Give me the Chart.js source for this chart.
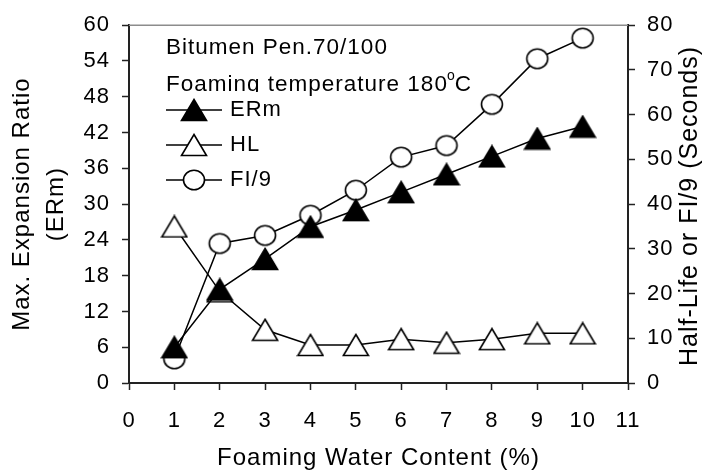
<!DOCTYPE html>
<html>
<head>
<meta charset="utf-8">
<script src="https://cdn.jsdelivr.net/npm/chart.js@4.4.0/dist/chart.umd.min.js"></script>
<style>
  html, body { margin: 0; padding: 0; background: #fff; }
  #wrap { width: 711px; height: 475px; position: relative; }
</style>
</head>
<body>
<div id="wrap"><canvas id="myChart"></canvas></div>
<script>
// water content (%)
const waterContent = [1, 2, 3, 4, 5, 6, 7, 8, 9, 10];
// max expansion ratio, left axis
const ermValues = [6, 15.7, 20.8, 26.2, 29, 32, 35, 38, 41, 43];
// half-life (s), right axis
const hlValues = [35, 20.5, 11.9, 8.5, 8.5, 9.8, 9, 9.8, 11.1, 11.1];
// foam index / 9 (s), right axis
const fiValues = [5.4, 31.2, 33, 37.5, 43.1, 50.5, 53.1, 62.3, 72.5, 77.1];

const legendLabels = ["ERm", "HL", "FI/9"];
const noteLines = ["Bitumen Pen.70/100", "Foaming temperature 180", "C"];

const FONT = '"Liberation Sans", Arial, sans-serif';

// marker images
function triangleMarker(fill) {
  const c = document.createElement('canvas');
  c.width = 28; c.height = 24;
  const g = c.getContext('2d');
  g.beginPath();
  g.moveTo(14, 1.5);
  g.lineTo(26.5, 22.5);
  g.lineTo(1.5, 22.5);
  g.closePath();
  g.fillStyle = fill;
  g.fill();
  g.lineWidth = 1.6;
  g.strokeStyle = '#000';
  g.stroke();
  return c;
}

function circleMarker() {
  const c = document.createElement('canvas');
  c.width = 26; c.height = 24;
  const g = c.getContext('2d');
  g.beginPath();
  g.ellipse(13, 12, 10.5, 9.8, 0, 0, Math.PI * 2);
  g.fillStyle = '#fff';
  g.fill();
  g.lineWidth = 1.6;
  g.strokeStyle = '#000';
  g.stroke();
  return c;
}

const ermMark = triangleMarker('#000');
const hlMark = triangleMarker('#fff');
const fiMark = circleMarker();

const toPoints = (vals) => waterContent.map((x, i) => ({ x: x, y: vals[i] }));

const extras = {
  id: 'extras',
  beforeDraw(chart) {
    chart.ctx.letterSpacing = '1px';
  },
  afterDraw(chart) {
    const ctx = chart.ctx;
    const area = chart.chartArea;
    ctx.save();
    ctx.letterSpacing = '1px';

    // top frame line
    ctx.strokeStyle = '#8c8c8c';
    ctx.lineWidth = 1.5;
    ctx.beginPath();
    ctx.moveTo(area.left, area.top);
    ctx.lineTo(area.right, area.top);
    ctx.stroke();

    // notes
    ctx.fillStyle = '#000';
    ctx.textBaseline = 'alphabetic';
    ctx.textAlign = 'left';
    ctx.font = '22.5px ' + FONT;
    ctx.fillText(noteLines[0], 166, 54);
    ctx.fillText(noteLines[1], 166, 91);
    let w = ctx.measureText(noteLines[1]).width;
    ctx.font = '14px ' + FONT;
    ctx.fillText('o', 166 + w - 1, 80);
    let w2 = ctx.measureText('o').width;
    ctx.font = '22.5px ' + FONT;
    ctx.fillText(noteLines[2], 166 + w + w2 - 2, 91);

    // legend box
    ctx.fillStyle = '#fff';
    ctx.fillRect(160, 92, 130, 104);
    const marks = [ermMark, hlMark, fiMark];
    const rows = [110, 145, 180];
    ctx.strokeStyle = '#000';
    ctx.lineWidth = 1.5;
    rows.forEach((yy, i) => {
      ctx.beginPath();
      ctx.moveTo(166, yy);
      ctx.lineTo(222, yy);
      ctx.stroke();
      ctx.drawImage(marks[i], 194 - marks[i].width / 2, yy - marks[i].height / 2);
      ctx.fillStyle = '#000';
      ctx.textBaseline = 'middle';
      ctx.font = '22px ' + FONT;
      ctx.fillText(legendLabels[i], 230, yy);
    });

    // right axis title, reading bottom to top
    ctx.translate(690, 206);
    ctx.rotate(-Math.PI / 2);
    ctx.textAlign = 'center';
    ctx.textBaseline = 'middle';
    ctx.font = '25px ' + FONT;
    ctx.fillText('Half-Life or FI/9 (Seconds)', 0, 0);
    ctx.restore();
  }
};

const axisGrid = {
  drawOnChartArea: false,
  drawTicks: true,
  tickLength: 7,
  tickColor: '#222',
  tickWidth: 1.5
};
const axisBorder = { display: true, color: '#222', width: 2 };
const tickFont = { family: FONT, size: 22 };

const config = {
  type: 'line',
  data: {
    datasets: [
      {
        label: legendLabels[0],
        data: toPoints(ermValues),
        yAxisID: 'y',
        borderColor: '#000',
        borderWidth: 1.5,
        pointStyle: ermMark,
        pointRadius: 12,
        tension: 0
      },
      {
        label: legendLabels[1],
        data: toPoints(hlValues),
        yAxisID: 'y1',
        borderColor: '#000',
        borderWidth: 1.5,
        pointStyle: hlMark,
        pointRadius: 12,
        tension: 0
      },
      {
        label: legendLabels[2],
        data: toPoints(fiValues),
        yAxisID: 'y1',
        borderColor: '#000',
        borderWidth: 1.5,
        pointStyle: fiMark,
        pointRadius: 12,
        tension: 0
      }
    ]
  },
  options: {
    responsive: true,
    maintainAspectRatio: false,
    animation: false,
    devicePixelRatio: 1,
    layout: { padding: { top: 22, left: 0, right: 0, bottom: 0 } },
    plugins: {
      legend: { display: false },
      tooltip: { enabled: false }
    },
    scales: {
      x: {
        type: 'linear',
        min: 0,
        max: 11,
        ticks: { stepSize: 1, color: '#000', font: tickFont, padding: 18, maxRotation: 0 },
        grid: axisGrid,
        border: axisBorder,
        title: {
          display: true,
          text: 'Foaming Water Content (%)',
          color: '#000',
          font: { family: FONT, size: 24 },
          padding: { top: 0, bottom: 2 }
        },
        afterFit: (s) => { s.height = 92; }
      },
      y: {
        position: 'left',
        min: 0,
        max: 60,
        ticks: { stepSize: 6, color: '#000', font: tickFont, padding: 12 },
        grid: axisGrid,
        border: axisBorder,
        title: {
          display: true,
          text: ['Max. Expansion Ratio', '(ERm)'],
          color: '#000',
          font: { family: FONT, size: 24, lineHeight: 1.4 },
          padding: { top: 6, bottom: 0 }
        },
        afterFit: (s) => { s.width = 129; }
      },
      y1: {
        position: 'right',
        min: 0,
        max: 80,
        ticks: { stepSize: 10, color: '#000', font: tickFont, padding: 12 },
        grid: axisGrid,
        border: axisBorder,
        afterFit: (s) => { s.width = 83; }
      }
    }
  },
  plugins: [extras]
};

const canvas = document.getElementById('myChart');
const myChart = new Chart(canvas, config);
</script>
</body>
</html>
